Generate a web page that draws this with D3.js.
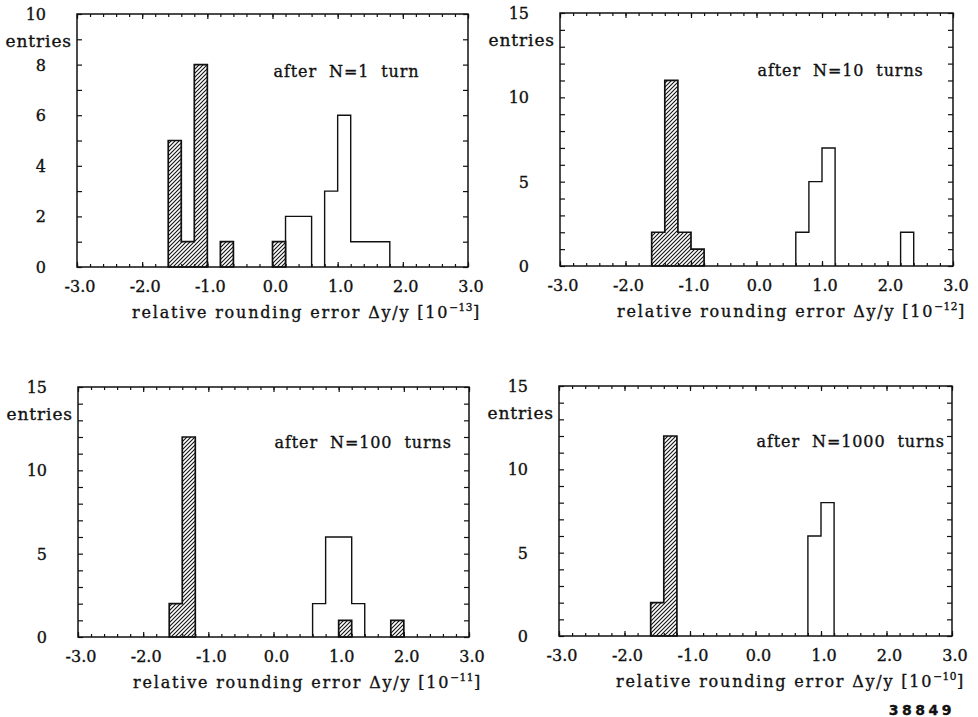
<!DOCTYPE html>
<html>
<head>
<meta charset="utf-8">
<script src="https://cdn.jsdelivr.net/npm/d3@7"></script>
<style>
  html, body { margin: 0; padding: 0; background: #fff; }
  svg { display: block; }
  text { font-family: "DejaVu Serif", serif; fill: #111; stroke: #111; stroke-width: 0.35px; }
</style>
</head>
<body>
<svg id="chart" width="978" height="717"></svg>
<script>
// ---------------- data ----------------
const binWidth = 0.2;
const xDomain = [-3, 3];
const xTickLabels = ["-3.0", "-2.0", "-1.0", "0.0", "1.0", "2.0", "3.0"];
const panelTitles = ["after  N=1  turn", "after  N=10  turns", "after  N=100  turns", "after  N=1000  turns"];
const exponents = ["−13", "−12", "−11", "−10"];
const yMaxes = [10, 15, 15, 15];
const yTickLabels = [[0, 2, 4, 6, 8, 10], [0, 5, 10, 15], [0, 5, 10, 15], [0, 5, 10, 15]];

// panel 1: after N=1 turn
const hatchedStart1 = [-1.6, -1.4, -1.2, -0.8, 0.0];
const hatchedCount1 = [5, 1, 8, 1, 1];
const openStart1 = [0.2, 0.4, 0.8, 1.0, 1.2, 1.4, 1.6];
const openCount1 = [2, 2, 3, 6, 1, 1, 1];
// panel 2: after N=10 turns
const hatchedStart2 = [-1.6, -1.4, -1.2, -1.0];
const hatchedCount2 = [2, 11, 2, 1];
const openStart2 = [0.6, 0.8, 1.0, 2.2];
const openCount2 = [2, 5, 7, 2];
// panel 3: after N=100 turns
const hatchedStart3 = [-1.6, -1.4, 1.0, 1.8];
const hatchedCount3 = [2, 12, 1, 1];
const openStart3 = [0.6, 0.8, 1.0, 1.2];
const openCount3 = [2, 6, 6, 2];
// panel 4: after N=1000 turns
const hatchedStart4 = [-1.6, -1.4];
const hatchedCount4 = [2, 12];
const openStart4 = [0.8, 1.0];
const openCount4 = [6, 8];

const figureId = "38849";

// ---------------- layout ----------------
const frames = [
  {left: 77,  right: 468, top: 14,  bottom: 267},
  {left: 560, right: 953, top: 13,  bottom: 266},
  {left: 78,  right: 469, top: 387, bottom: 637},
  {left: 559, right: 952, top: 386, bottom: 636}
];
const hatchedStarts = [hatchedStart1, hatchedStart2, hatchedStart3, hatchedStart4];
const hatchedCounts = [hatchedCount1, hatchedCount2, hatchedCount3, hatchedCount4];
const openStarts = [openStart1, openStart2, openStart3, openStart4];
const openCounts = [openCount1, openCount2, openCount3, openCount4];

const svg = d3.select("#chart");
svg.append("rect").attr("width", 978).attr("height", 717).attr("fill", "#fff");

const defs = svg.append("defs");
const pat = defs.append("pattern")
  .attr("id", "hatch")
  .attr("patternUnits", "userSpaceOnUse")
  .attr("width", 4).attr("height", 4);
pat.append("rect").attr("width", 4).attr("height", 4).attr("fill", "#fff");
pat.append("path")
  .attr("d", "M-1,1 l2,-2 M0,4 l4,-4 M3,5 l2,-2")
  .attr("stroke", "#111").attr("stroke-width", 1.1);

// build step outline points for runs of contiguous bins
function runs(starts, counts) {
  const bins = starts.map((s, i) => ({x0: s, x1: +(s + binWidth).toFixed(3), n: counts[i]}));
  const out = [];
  let cur = null;
  bins.forEach(b => {
    if (cur && Math.abs(cur[cur.length - 1].x1 - b.x0) < 1e-6) cur.push(b);
    else { cur = [b]; out.push(cur); }
  });
  return out.map(r => {
    const pts = [[r[0].x0, 0]];
    r.forEach(b => { pts.push([b.x0, b.n]); pts.push([b.x1, b.n]); });
    pts.push([r[r.length - 1].x1, 0]);
    return pts;
  });
}

frames.forEach((f, p) => {
  const g = svg.append("g");
  const x = d3.scaleLinear().domain(xDomain).range([f.left, f.right]);
  const y = d3.scaleLinear().domain([0, yMaxes[p]]).range([f.bottom, f.top]);
  const line = d3.line().x(d => x(d[0])).y(d => y(d[1]));

  // open histogram (outline)
  runs(openStarts[p], openCounts[p]).forEach(pts => {
    g.append("path").attr("d", line(pts))
      .attr("fill", "none").attr("stroke", "#111").attr("stroke-width", 1.4);
  });
  // hatched histogram
  runs(hatchedStarts[p], hatchedCounts[p]).forEach(pts => {
    g.append("path").attr("d", line(pts) + "Z")
      .attr("fill", "url(#hatch)").attr("stroke", "#111").attr("stroke-width", 1.7);
  });

  // axes with inward ticks
  const minorX = d3.range(-3, 3.0001, 0.2);
  const majorX = d3.range(-3, 3.0001, 1);
  const yMinor = d3.range(0, yMaxes[p] + 0.001, 1);

  g.append("g").attr("transform", `translate(0,${f.bottom})`)
    .call(d3.axisTop(x).tickValues(minorX).tickSize(3).tickFormat(""))
    .call(a => a.select(".domain").remove());
  g.append("g").attr("transform", `translate(0,${f.bottom})`)
    .call(d3.axisTop(x).tickValues(majorX).tickSize(5).tickFormat(""))
    .call(a => a.select(".domain").remove());
  g.append("g").attr("transform", `translate(0,${f.top})`)
    .call(d3.axisBottom(x).tickValues(minorX).tickSize(3).tickFormat(""))
    .call(a => a.select(".domain").remove());
  g.append("g").attr("transform", `translate(0,${f.top})`)
    .call(d3.axisBottom(x).tickValues(majorX).tickSize(5).tickFormat(""))
    .call(a => a.select(".domain").remove());
  g.append("g").attr("transform", `translate(${f.left},0)`)
    .call(d3.axisRight(y).tickValues(yMinor).tickSize(5).tickFormat(""))
    .call(a => a.select(".domain").remove());
  g.append("g").attr("transform", `translate(${f.right},0)`)
    .call(d3.axisLeft(y).tickValues(yMinor).tickSize(5).tickFormat(""))
    .call(a => a.select(".domain").remove());
  g.selectAll(".tick line").attr("stroke", "#111").attr("stroke-width", 1.2);

  // frame
  g.append("rect")
    .attr("x", x(xDomain[0])).attr("y", y(yMaxes[p]))
    .attr("width", x(xDomain[1]) - x(xDomain[0]))
    .attr("height", y(0) - y(yMaxes[p]))
    .attr("fill", "none").attr("stroke", "#111").attr("stroke-width", 1.5);

  // x tick labels
  g.selectAll(".xl").data(xTickLabels).enter().append("text")
    .attr("x", d => x(+d) + 3).attr("y", f.bottom + 25)
    .attr("text-anchor", "middle").attr("font-size", 16)
    .text(d => d);
  // y tick labels
  g.selectAll(".yl").data(yTickLabels[p]).enter().append("text")
    .attr("x", f.left - 31).attr("y", d => y(d) + 6)
    .attr("text-anchor", "end").attr("font-size", 16)
    .text(d => d);
  // entries
  g.append("text").attr("x", f.left - 5).attr("y", f.top + 33)
    .attr("text-anchor", "end").attr("font-size", 17).attr("letter-spacing", 0.9)
    .text("entries");
  // panel title
  g.append("text").attr("x", x(0) + 1).attr("y", f.top + (p < 2 ? 63 : 61))
    .attr("font-size", 16).attr("letter-spacing", 0.9)
    .attr("xml:space", "preserve").style("white-space", "pre")
    .text(panelTitles[p]);
  // x-axis title
  const t = g.append("text").attr("x", f.right + 13).attr("y", f.bottom + 51)
    .attr("text-anchor", "end").attr("font-size", 16).attr("letter-spacing", 1.8);
  t.append("tspan").text("relative rounding error Δy/y [10");
  t.append("tspan").attr("dy", -7).attr("font-size", 10.5).attr("letter-spacing", 0.5).text(exponents[p]);
  t.append("tspan").attr("dy", 7).text("]");
});

svg.append("text").attr("x", 955).attr("y", 715)
  .attr("text-anchor", "end")
  .style("font-family", "'DejaVu Sans', sans-serif")
  .attr("font-weight", "bold").attr("font-size", 14).attr("letter-spacing", 3.5)
  .text(figureId);
</script>
</body>
</html>
